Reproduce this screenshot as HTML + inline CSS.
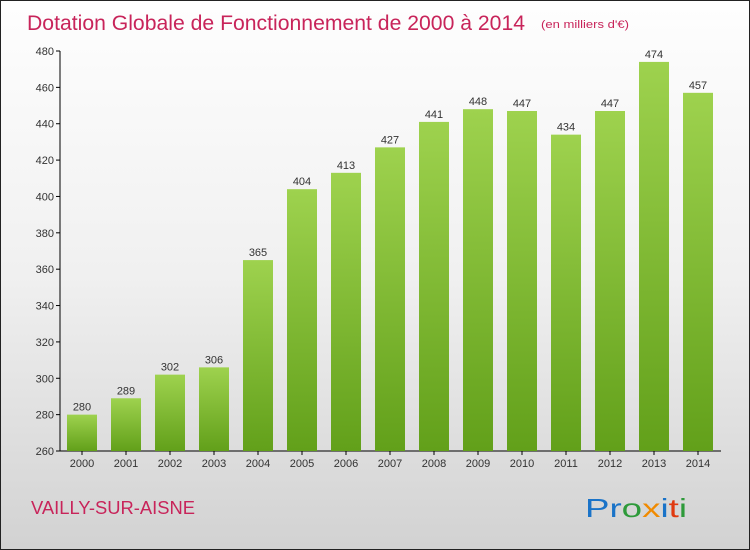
<!DOCTYPE html>
<html><head><meta charset="utf-8"><style>
body{margin:0}
#c{position:relative;width:748px;height:548px;border:1px solid #222;background:linear-gradient(#fefefe,#f0f0f0 50%,#d2d2d2);font-family:"Liberation Sans",sans-serif;overflow:hidden}
</style></head><body>
<div id="c">
<svg id="s" width="748" height="548" style="position:absolute;left:0;top:0">
<defs><linearGradient id="g" x1="0" y1="0" x2="0" y2="1"><stop offset="0" stop-color="#9ed24e"/><stop offset="1" stop-color="#62a01a"/></linearGradient></defs>
<text x="26" y="29" font-size="21" fill="#c8245a" textLength="498" lengthAdjust="spacingAndGlyphs">Dotation Globale de Fonctionnement de 2000 à 2014</text>
<text x="540" y="27" font-size="11" fill="#c8245a" textLength="88" lengthAdjust="spacingAndGlyphs">(en milliers d'€)</text>
<text x="30" y="513" font-size="18" fill="#c8245a" textLength="164" lengthAdjust="spacingAndGlyphs">VAILLY-SUR-AISNE</text>
<text x="584" y="516" font-size="26" textLength="102" lengthAdjust="spacingAndGlyphs"><tspan fill="#1a73c8">Pr</tspan><tspan fill="#2e9a3a">o</tspan><tspan fill="#f08a00">x</tspan><tspan fill="#1a73c8">i</tspan><tspan fill="#e03a10">t</tspan><tspan fill="#2e9a3a">i</tspan></text>
<g id="plot"></g>
</svg>
</div>
<script>
const years=["2000","2001","2002","2003","2004","2005","2006","2007","2008","2009","2010","2011","2012","2013","2014"];
const values=[280,289,302,306,365,404,413,427,441,448,447,434,447,474,457];
const ticks=[260,280,300,320,340,360,380,400,420,440,460,480];
const ns="http://www.w3.org/2000/svg",g=document.getElementById('plot');
const y=v=>450-(v-260)*400/220, x=i=>81+i*44;
function mk(t,a,txt){const e=document.createElementNS(ns,t);for(const k in a)e.setAttribute(k,a[k]);if(txt!=null)e.textContent=txt;g.appendChild(e);return e;}
let ax=mk('line',{x1:59,y1:50,x2:59,y2:450,stroke:'#000'});


let bx=mk('line',{x1:59,y1:450,x2:720,y2:450,stroke:'#000'});


ticks.forEach(t=>{
 let l=mk('line',{x1:55,y1:y(t),x2:59,y2:y(t),stroke:'#000'});
 
 
 let tx=mk('text',{x:53,y:y(t)+4,'font-size':11,fill:'#333','text-anchor':'end'},t);
 
 
});
years.forEach((yr,i)=>{
 let r=mk('rect',{x:x(i)-15,y:y(values[i]),width:30,height:450-y(values[i]),fill:'url(#g)'});
 
 
 let v=mk('text',{x:x(i),y:y(values[i])-4,'font-size':11,fill:'#333','text-anchor':'middle'},values[i]);
 
 
 let tk=mk('line',{x1:x(i),y1:450,x2:x(i),y2:454,stroke:'#000'});
 
 
 let l=mk('text',{x:x(i),y:466,'font-size':11,fill:'#333','text-anchor':'middle'},yr);
 
 
});
</script>
</body></html>
